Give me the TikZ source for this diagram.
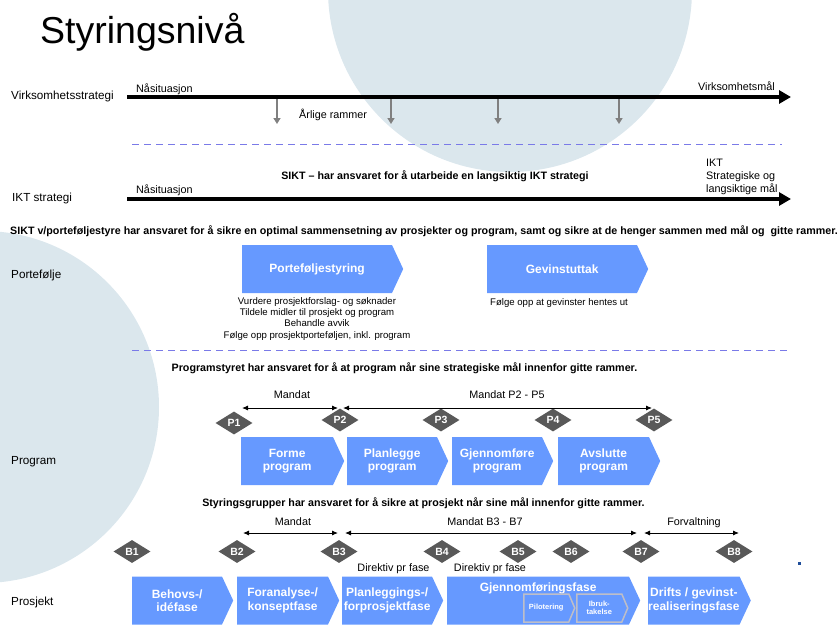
\documentclass[tikz,border=0pt]{standalone}
\usepackage{fontspec}
\setmainfont{Liberation Sans}
\usetikzlibrary{shapes.geometric,shapes.symbols,arrows.meta}

\definecolor{circlegray}{RGB}{219,231,237}
\definecolor{phaseblue}{RGB}{102,153,255}
\definecolor{gatedark}{RGB}{89,89,89}
\definecolor{dashblue}{RGB}{122,122,232}
\definecolor{framegray}{RGB}{128,128,128}
\definecolor{subedge}{RGB}{190,190,200}
\definecolor{dotblue}{RGB}{31,78,154}

\tikzset{
rowlabel/.style = {anchor = base west, inner sep = 0pt, font = \fontsize{11.7}{13}\selectfont},
smalltext/.style = {anchor = base, inner sep = 0pt, font = \fontsize{10.8}{13}\selectfont},
headline/.style = {anchor = base, inner sep = 0pt, font = \fontsize{10.7}{12}\selectfont\bfseries},
phasebox/.style = {shape = signal, signal to = east, signal from = nowhere, signal pointer angle = 130, fill = phaseblue, text = white, font = \fontsize{12}{13.5}\selectfont\bfseries, align = center, inner sep = 0pt, minimum height = 48pt, anchor = west},
subphase/.style = {phasebox, draw = subedge, line width = 1.5pt, minimum height = 28pt, minimum width = 51pt, signal pointer angle = 134, font = \fontsize{7.5}{8.5}\selectfont\bfseries},
gatemark/.style = {shape = diamond, fill = gatedark, text = white, font = \fontsize{10.5}{12}\selectfont\bfseries, inner sep = 0pt, minimum width = 37pt, minimum height = 23pt},
timeline/.style = {line width = 3.5pt, -{Triangle[length = 12pt, width = 13pt]}},
yeararrow/.style = {framegray, line width = 2pt, -{Triangle[length = 6pt, width = 7pt]}},
mandatearrow/.style = {line width = 0.9pt, {Latex[length = 6pt, width = 5pt]}-{Latex[length = 6pt, width = 5pt]}},
separator/.style = {dashblue, line width = 1pt, dash pattern = on 7pt off 5pt}
}

\begin{document}
\begin{tikzpicture}[x = 1pt, y = -1pt]
\useasboundingbox (0,0) rectangle (839,629);
\begin{scope}
\clip (0,0) rectangle (839,629);
\fill[circlegray] (510,-10) circle[radius = 182];
\fill[circlegray] (-17,407) circle[radius = 176];
\end{scope}

\node[anchor = base west, inner sep = 0pt, font = \fontsize{37.5}{42}\selectfont] (title) at (40,43) {Styringsnivå};

\node[rowlabel] (vslabel) at (11,99) {Virksomhetsstrategi};
\coordinate (vsstart) at (127,97);
\coordinate (vsend) at (791,97);
\draw[timeline] (vsstart) -- (vsend);
\node[smalltext, anchor = base west] (vsnow) at (136,92) {Nåsituasjon};
\node[smalltext, anchor = base east] (vsgoal) at (775,90) {Virksomhetsmål};
\foreach \x [count = \i] in {277,391,498,619} {
  \coordinate (rtop\i) at (\x,99);
  \coordinate (rbot\i) at (\x,124);
  \draw[yeararrow] (rtop\i) -- (rbot\i);
}
\node[smalltext, anchor = base west] (frames) at (299,118) {Årlige rammer};
\draw[separator] (132,144) -- (782,144);

\node[headline] (iktresp) at (435,179.5) {SIKT – har ansvaret for å utarbeide en langsiktig IKT strategi};
\node[rowlabel] (iktlabel) at (12,201) {IKT strategi};
\coordinate (iktstart) at (127,199);
\coordinate (iktend) at (791,199);
\draw[timeline] (iktstart) -- (iktend);
\node[smalltext, anchor = base west] (iktnow) at (136,193) {Nåsituasjon};
\node[smalltext, anchor = north west, align = left] (iktgoal) at (706,159) {IKT\\Strategiske og\\langsiktige mål};

\node[headline, anchor = base west] (portresp) at (10,234) {SIKT v/porteføljestyre har ansvaret for å sikre en optimal sammensetning av prosjekter og program, samt og sikre at de henger sammen med mål og\ \ gitte rammer.};
\node[rowlabel] (portlabel) at (11,278) {Portefølje};
\node[phasebox, minimum width = 161pt] (portstyr) at (242,269) {Porteføljestyring};
\node[phasebox, minimum width = 161pt] (gevinst) at (487,269) {Gevinstuttak};
\node[smalltext, anchor = north, align = center, font = \fontsize{9.6}{11.4}\selectfont] (porttasks) at (317,297) {Vurdere prosjektforslag- og søknader\\Tildele midler til prosjekt og program\\Behandle avvik\\Følge opp prosjektporteføljen, inkl. program};
\node[smalltext, font = \fontsize{9.6}{11.4}\selectfont] (gevtasks) at (559,305) {Følge opp at gevinster hentes ut};
\draw[separator] (132,350) -- (790,350);

\node[headline] (progresp) at (404.5,371.5) {Programstyret har ansvaret for å at program når sine strategiske mål innenfor gitte rammer.};
\node[rowlabel] (proglabel) at (11,464) {Program};
\foreach \name/\x/\y in {P1/234/423, P2/340/420, P3/441/420, P4/553/420, P5/654/420}
  \node[gatemark] (\name) at (\x,\y) {\name};
\coordinate (pmandA) at (242,408);
\coordinate (pmandB) at (338,408);
\coordinate (pmandC) at (343,408);
\coordinate (pmandD) at (652,408);
\draw[mandatearrow] (pmandA) -- (pmandB);
\draw[mandatearrow] (pmandC) -- (pmandD);
\node[smalltext] (pmandlabel) at (292,398) {Mandat};
\node[smalltext] (pmandlabel2) at (507,398) {Mandat P2 - P5};
\node[phasebox, minimum width = 103pt] (forme) at (241,461) {Forme\\program};
\node[phasebox, minimum width = 101pt] (planlegge) at (347,461) {Planlegge\\program};
\node[phasebox, minimum width = 101pt] (gjennomfore) at (452,461) {Gjennomføre\\program};
\node[phasebox, minimum width = 102pt] (avslutte) at (558,461) {Avslutte\\program};

\node[headline] (prosresp) at (423.5,506) {Styringsgrupper har ansvaret for å sikre at prosjekt når sine mål innenfor gitte rammer.};
\node[rowlabel] (proslabel) at (11,605) {Prosjekt};
\foreach \name/\x in {B1/132, B2/237, B3/339, B4/442, B5/518, B6/571, B7/641, B8/734}
  \node[gatemark] (\name) at (\x,551.5) {\name};
\coordinate (bmandA) at (243,533);
\coordinate (bmandB) at (338,533);
\coordinate (bmandC) at (345,533);
\coordinate (bmandD) at (637,533);
\coordinate (bmandE) at (644,533);
\coordinate (bmandF) at (739,533);
\draw[mandatearrow] (bmandA) -- (bmandB);
\draw[mandatearrow] (bmandC) -- (bmandD);
\draw[mandatearrow] (bmandE) -- (bmandF);
\node[smalltext] (bmandlabel) at (293,525) {Mandat};
\node[smalltext] (bmandlabel2) at (485,525) {Mandat B3 - B7};
\node[smalltext] (forvaltning) at (694,525) {Forvaltning};
\node[smalltext] (direktiv1) at (393.5,571.5) {Direktiv pr fase};
\node[smalltext] (direktiv2) at (490,571.5) {Direktiv pr fase};
\node[phasebox, minimum width = 101pt] (behov) at (132,600.5) {Behovs-/\\idéfase};
\node[phasebox, minimum width = 102pt] (foranalyse) at (237,600.5) {Foranalyse-/\\konseptfase};
\node[phasebox, minimum width = 101pt] (planlegging) at (342,600.5) {Planleggings-/\\forprosjektfase};
\node[phasebox, minimum width = 193pt, text height = 8pt, text depth = 26pt] (gjennomforing) at (447,600.5) {Gjennomføringsfase};
\node[subphase] (pilot) at (523,608) {Pilotering};
\node[subphase] (ibruk) at (576,608) {Ibruk-\\takelse};
\node[phasebox, minimum width = 101pt] (drift) at (648,600.5) {Drifts / gevinst-\\realiseringsfase};
\fill[dotblue] (797.5,561.5) rectangle (800.5,564.5);
\end{tikzpicture}
\end{document}
